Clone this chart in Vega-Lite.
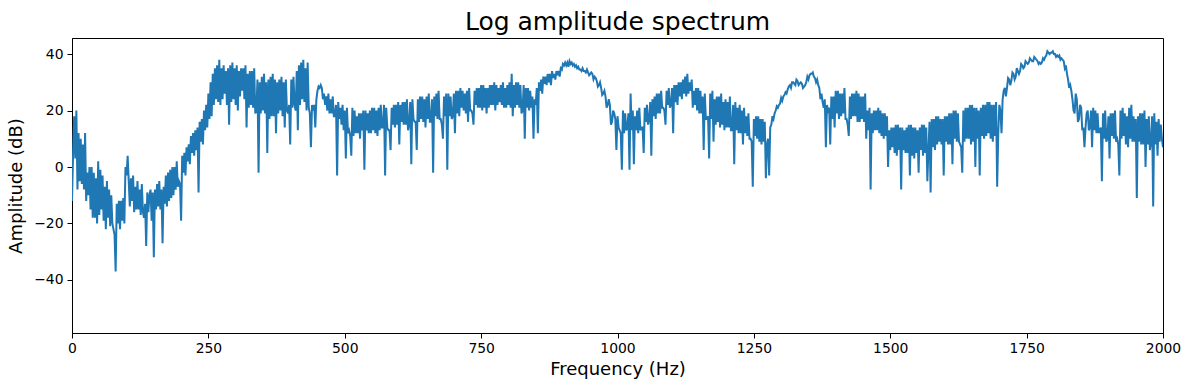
{
"$schema": "https://vega.github.io/schema/vega-lite/v6.json",
"width": 1091, "height": 295,
"autosize": {"type": "none"},
"padding": {"left": 72, "top": 38, "right": 26, "bottom": 57},
"background": "white",
"title": {"text": "Log amplitude spectrum", "fontSize": 25, "font": "DejaVu Sans", "fontWeight": "normal", "color": "black", "offset": 3, "anchor": "middle"},
"config": {
 "view": {"stroke": "black", "strokeWidth": 1},
 "axis": {"grid": false, "domainColor": "black", "domainWidth": 1, "tickColor": "black", "tickSize": 5, "tickWidth": 1, "labelFlush": false,
  "labelFont": "DejaVu Sans", "labelFontSize": 13.9, "labelColor": "black", "labelPadding": 3,
  "titleFont": "DejaVu Sans", "titleFontSize": 18, "titleFontWeight": "normal", "titleColor": "black"}
},
"data": {"values": [
{"f":0,"a":-12},{"f":2,"a":5},{"f":4,"a":18},{"f":6,"a":3},{"f":8,"a":20},{"f":10,"a":-8},{"f":12,"a":12},{"f":14,"a":-5},{"f":16,"a":10},{"f":18,"a":-6},{"f":20,"a":8},{"f":22,"a":-8},{"f":24,"a":12},{"f":26,"a":-12},{"f":28,"a":-2},{"f":30,"a":-10},{"f":32,"a":0},{"f":34,"a":-15},{"f":36,"a":0},{"f":38,"a":-18},{"f":40,"a":-2},{"f":42,"a":-18},{"f":44,"a":-4},{"f":46,"a":-20},{"f":48,"a":2},{"f":50,"a":-17},{"f":52,"a":-1},{"f":54,"a":-15},{"f":56,"a":-3},{"f":58,"a":-19},{"f":60,"a":-7},{"f":62,"a":-22},{"f":64,"a":-5},{"f":66,"a":-18},{"f":68,"a":-8},{"f":70,"a":-21},{"f":72,"a":-10},{"f":74,"a":-20},{"f":76,"a":-22},{"f":78,"a":-24},{"f":80,"a":-37},{"f":82,"a":-13},{"f":84,"a":-20},{"f":86,"a":-12},{"f":88,"a":-22},{"f":90,"a":-12},{"f":92,"a":-19},{"f":94,"a":-11},
{"f":96,"a":-20},{"f":98,"a":0},{"f":100,"a":-3},{"f":102,"a":4},{"f":104,"a":-5},{"f":106,"a":-14},{"f":108,"a":-4},{"f":110,"a":-12},{"f":112,"a":-3},{"f":114,"a":-16},{"f":116,"a":-7},{"f":118,"a":-15},{"f":120,"a":-5},{"f":122,"a":-15},{"f":124,"a":-8},{"f":126,"a":-17},{"f":128,"a":-6},{"f":130,"a":-16},{"f":132,"a":-18},{"f":134,"a":-13},{"f":136,"a":-28},{"f":138,"a":-9},{"f":140,"a":-16},{"f":142,"a":-10},{"f":144,"a":-8},{"f":146,"a":-19},{"f":148,"a":-9},{"f":150,"a":-32},{"f":152,"a":-8},{"f":154,"a":-15},{"f":156,"a":-6},{"f":158,"a":-14},{"f":160,"a":-5},{"f":162,"a":-15},{"f":164,"a":-8},{"f":166,"a":-27},{"f":168,"a":-7},{"f":170,"a":-13},{"f":172,"a":-3},{"f":174,"a":-14},{"f":176,"a":-2},{"f":178,"a":-12},{"f":180,"a":-1},{"f":182,"a":-11},{"f":184,"a":0},{"f":186,"a":-10},{"f":188,"a":0},{"f":190,"a":-8},{"f":192,"a":2},{"f":194,"a":-7},{"f":196,"a":-5},{"f":198,"a":-6},
{"f":200,"a":-19},{"f":202,"a":4},{"f":204,"a":-2},{"f":206,"a":5},{"f":208,"a":-3},{"f":210,"a":7},{"f":212,"a":2},{"f":214,"a":8},{"f":216,"a":1},{"f":218,"a":11},{"f":220,"a":5},{"f":222,"a":12},{"f":224,"a":4},{"f":226,"a":13},{"f":228,"a":6},{"f":230,"a":14},{"f":232,"a":-9},{"f":234,"a":16},{"f":236,"a":9},{"f":238,"a":17},{"f":240,"a":8},{"f":242,"a":20},{"f":244,"a":13},{"f":246,"a":22},{"f":248,"a":14},{"f":250,"a":26},{"f":252,"a":17},{"f":254,"a":30},{"f":256,"a":18},{"f":258,"a":33},{"f":260,"a":22},{"f":262,"a":35},{"f":264,"a":24},{"f":266,"a":36},{"f":268,"a":23},{"f":270,"a":38},{"f":272,"a":22},{"f":274,"a":35},{"f":276,"a":24},{"f":278,"a":36},{"f":280,"a":26},{"f":282,"a":34},{"f":284,"a":22},{"f":286,"a":35},{"f":288,"a":15},{"f":290,"a":36},{"f":292,"a":23},{"f":294,"a":37},
{"f":296,"a":24},{"f":298,"a":35},{"f":300,"a":22},{"f":302,"a":36},{"f":304,"a":20},{"f":306,"a":34},{"f":308,"a":25},{"f":310,"a":35},{"f":312,"a":27},{"f":314,"a":35},{"f":316,"a":24},{"f":318,"a":36},{"f":320,"a":14},{"f":322,"a":33},{"f":324,"a":21},{"f":326,"a":34},{"f":328,"a":22},{"f":330,"a":34},{"f":332,"a":21},{"f":334,"a":35},{"f":336,"a":19},{"f":338,"a":20},{"f":340,"a":31},{"f":342,"a":-2},{"f":344,"a":30},{"f":346,"a":19},{"f":348,"a":32},{"f":350,"a":20},{"f":352,"a":33},{"f":354,"a":19},{"f":356,"a":30},{"f":358,"a":5},{"f":360,"a":31},{"f":362,"a":17},{"f":364,"a":32},{"f":366,"a":18},{"f":368,"a":33},{"f":370,"a":18},{"f":372,"a":31},{"f":374,"a":12},{"f":376,"a":30},{"f":378,"a":19},{"f":380,"a":31},{"f":382,"a":20},{"f":384,"a":32},{"f":386,"a":18},{"f":388,"a":30},{"f":390,"a":14},{"f":392,"a":31},{"f":394,"a":20},{"f":396,"a":19},{"f":398,"a":22},
{"f":400,"a":8},{"f":402,"a":31},{"f":404,"a":21},{"f":406,"a":32},{"f":408,"a":22},{"f":410,"a":20},{"f":412,"a":34},{"f":414,"a":13},{"f":416,"a":36},{"f":418,"a":22},{"f":420,"a":37},{"f":422,"a":24},{"f":424,"a":38},{"f":426,"a":23},{"f":428,"a":35},{"f":430,"a":20},{"f":432,"a":37},{"f":434,"a":21},{"f":436,"a":19},{"f":438,"a":7},{"f":440,"a":22},{"f":442,"a":20},{"f":444,"a":22},{"f":446,"a":14},{"f":448,"a":24},{"f":450,"a":27},{"f":452,"a":28.5},{"f":454,"a":28},{"f":456,"a":29},{"f":458,"a":28},{"f":460,"a":24},{"f":462,"a":26},{"f":464,"a":22},{"f":466,"a":25},{"f":468,"a":20},{"f":470,"a":26},{"f":472,"a":19},{"f":474,"a":24},{"f":476,"a":19},{"f":478,"a":25},{"f":480,"a":18},{"f":482,"a":18},{"f":484,"a":22},{"f":486,"a":-3},{"f":488,"a":23},{"f":490,"a":17},{"f":492,"a":21},{"f":494,"a":15},
{"f":496,"a":22},{"f":498,"a":13},{"f":500,"a":20},{"f":502,"a":3},{"f":504,"a":21},{"f":506,"a":12},{"f":508,"a":13},{"f":510,"a":11},{"f":512,"a":4},{"f":514,"a":21},{"f":516,"a":11},{"f":518,"a":20},{"f":520,"a":12},{"f":522,"a":18},{"f":524,"a":12},{"f":526,"a":19},{"f":528,"a":10},{"f":530,"a":19},{"f":532,"a":13},{"f":534,"a":20},{"f":536,"a":-1},{"f":538,"a":20},{"f":540,"a":13},{"f":542,"a":19},{"f":544,"a":12},{"f":546,"a":20},{"f":548,"a":12},{"f":550,"a":21},{"f":552,"a":13},{"f":554,"a":21},{"f":556,"a":12},{"f":558,"a":20},{"f":560,"a":11},{"f":562,"a":21},{"f":564,"a":13},{"f":566,"a":22},{"f":568,"a":14},{"f":570,"a":14},{"f":572,"a":22},{"f":574,"a":-3},{"f":576,"a":21},{"f":578,"a":14},{"f":580,"a":13},{"f":582,"a":13},{"f":584,"a":6},{"f":586,"a":21},{"f":588,"a":15},{"f":590,"a":22},{"f":592,"a":14},{"f":594,"a":22},{"f":596,"a":15},{"f":598,"a":23},
{"f":600,"a":8},{"f":602,"a":22},{"f":604,"a":16},{"f":606,"a":23},{"f":608,"a":15},{"f":610,"a":23},{"f":612,"a":15},{"f":614,"a":24},{"f":616,"a":13},{"f":618,"a":15},{"f":620,"a":23},{"f":622,"a":1},{"f":624,"a":24},{"f":626,"a":17},{"f":628,"a":16},{"f":630,"a":16},{"f":632,"a":6},{"f":634,"a":24},{"f":636,"a":16},{"f":638,"a":25},{"f":640,"a":17},{"f":642,"a":25},{"f":644,"a":16},{"f":646,"a":24},{"f":648,"a":14},{"f":650,"a":25},{"f":652,"a":17},{"f":654,"a":26},{"f":656,"a":16},{"f":658,"a":16},{"f":660,"a":24},{"f":662,"a":-2},{"f":664,"a":25},{"f":666,"a":18},{"f":668,"a":26},{"f":670,"a":17},{"f":672,"a":27},{"f":674,"a":17},{"f":676,"a":17},{"f":678,"a":15},{"f":680,"a":10},{"f":682,"a":25},{"f":684,"a":18},{"f":686,"a":26},{"f":688,"a":-1},{"f":690,"a":26},{"f":692,"a":18},{"f":694,"a":25},
{"f":696,"a":17},{"f":698,"a":18},{"f":700,"a":26},{"f":702,"a":12},{"f":704,"a":27},{"f":706,"a":19},{"f":708,"a":27},{"f":710,"a":18},{"f":712,"a":28},{"f":714,"a":21},{"f":716,"a":27},{"f":718,"a":20},{"f":720,"a":26},{"f":722,"a":19},{"f":724,"a":27},{"f":726,"a":16},{"f":728,"a":28},{"f":730,"a":20},{"f":732,"a":20},{"f":734,"a":19},{"f":736,"a":15},{"f":738,"a":27},{"f":740,"a":22},{"f":742,"a":28},{"f":744,"a":21},{"f":746,"a":28},{"f":748,"a":21},{"f":750,"a":29},{"f":752,"a":20},{"f":754,"a":29},{"f":756,"a":21},{"f":758,"a":28},{"f":760,"a":19},{"f":762,"a":28},{"f":764,"a":21},{"f":766,"a":29},{"f":768,"a":22},{"f":770,"a":29},{"f":772,"a":22},{"f":774,"a":30},{"f":776,"a":20},{"f":778,"a":29},{"f":780,"a":22},{"f":782,"a":28},{"f":784,"a":23},{"f":786,"a":29},{"f":788,"a":22},{"f":790,"a":30},{"f":792,"a":21},{"f":794,"a":28},{"f":796,"a":21},{"f":798,"a":29},
{"f":800,"a":22},{"f":802,"a":30},{"f":804,"a":21},{"f":806,"a":33},{"f":808,"a":18},{"f":810,"a":29},{"f":812,"a":21},{"f":814,"a":30},{"f":816,"a":22},{"f":818,"a":30},{"f":820,"a":21},{"f":822,"a":29},{"f":824,"a":19},{"f":826,"a":20},{"f":828,"a":29},{"f":830,"a":10},{"f":832,"a":28},{"f":834,"a":21},{"f":836,"a":28},{"f":838,"a":20},{"f":840,"a":27},{"f":842,"a":21},{"f":844,"a":25},{"f":846,"a":10},{"f":848,"a":24},{"f":850,"a":22},{"f":852,"a":28},{"f":854,"a":12},{"f":856,"a":30},{"f":858,"a":27},{"f":860,"a":31},{"f":862,"a":26},{"f":864,"a":32},{"f":866,"a":29.5},{"f":868,"a":32},{"f":870,"a":29},{"f":872,"a":33},{"f":874,"a":30},{"f":876,"a":33},{"f":878,"a":29},{"f":880,"a":34},{"f":882,"a":31.5},{"f":884,"a":33},{"f":886,"a":31},{"f":888,"a":34},{"f":890,"a":32.5},{"f":892,"a":34},{"f":894,"a":32},
{"f":896,"a":35},{"f":898,"a":34.5},{"f":900,"a":36.5},{"f":902,"a":36},{"f":904,"a":37},{"f":906,"a":36},{"f":908,"a":37},{"f":910,"a":35.5},{"f":912,"a":37.5},{"f":914,"a":36.5},{"f":916,"a":37},{"f":918,"a":36},{"f":920,"a":36.5},{"f":922,"a":35.5},{"f":924,"a":36},{"f":926,"a":35},{"f":928,"a":35.5},{"f":930,"a":34.5},{"f":932,"a":34.5},{"f":934,"a":34},{"f":936,"a":35},{"f":938,"a":34},{"f":940,"a":34},{"f":942,"a":33.5},{"f":944,"a":34.5},{"f":946,"a":33.5},{"f":948,"a":32.5},{"f":950,"a":33},{"f":952,"a":33.5},{"f":954,"a":33},{"f":956,"a":31},{"f":958,"a":32},{"f":960,"a":31.5},{"f":962,"a":30.5},{"f":964,"a":28.5},{"f":966,"a":29},{"f":968,"a":30},{"f":970,"a":28},{"f":972,"a":25.5},{"f":974,"a":26},{"f":976,"a":27},{"f":978,"a":25},{"f":980,"a":21},{"f":982,"a":22},{"f":984,"a":24},{"f":986,"a":22},{"f":988,"a":15},{"f":990,"a":16},{"f":992,"a":20},{"f":994,"a":19},{"f":996,"a":17},{"f":998,"a":6},
{"f":1000,"a":18},{"f":1002,"a":14},{"f":1004,"a":13},{"f":1006,"a":12},{"f":1008,"a":-1},{"f":1010,"a":20},{"f":1012,"a":12},{"f":1014,"a":19},{"f":1016,"a":13},{"f":1018,"a":14},{"f":1020,"a":19},{"f":1022,"a":-1},{"f":1024,"a":26},{"f":1026,"a":13},{"f":1028,"a":20},{"f":1030,"a":1},{"f":1032,"a":18},{"f":1034,"a":13},{"f":1036,"a":20},{"f":1038,"a":12},{"f":1040,"a":21},{"f":1042,"a":13},{"f":1044,"a":14},{"f":1046,"a":14},{"f":1048,"a":5},{"f":1050,"a":21},{"f":1052,"a":16},{"f":1054,"a":22},{"f":1056,"a":15},{"f":1058,"a":17},{"f":1060,"a":23},{"f":1062,"a":4},{"f":1064,"a":24},{"f":1066,"a":18},{"f":1068,"a":25},{"f":1070,"a":17},{"f":1072,"a":26},{"f":1074,"a":19},{"f":1076,"a":26},{"f":1078,"a":19},{"f":1080,"a":27},{"f":1082,"a":21},{"f":1084,"a":21},{"f":1086,"a":20},{"f":1088,"a":15},{"f":1090,"a":27},{"f":1092,"a":22},{"f":1094,"a":28},
{"f":1096,"a":21},{"f":1098,"a":22},{"f":1100,"a":28},{"f":1102,"a":12},{"f":1104,"a":29},{"f":1106,"a":23},{"f":1108,"a":29},{"f":1110,"a":22},{"f":1112,"a":30},{"f":1114,"a":25},{"f":1116,"a":30},{"f":1118,"a":24},{"f":1120,"a":31},{"f":1122,"a":26},{"f":1124,"a":32},{"f":1126,"a":25},{"f":1128,"a":33},{"f":1130,"a":26},{"f":1132,"a":30},{"f":1134,"a":27},{"f":1136,"a":31},{"f":1138,"a":21},{"f":1140,"a":27},{"f":1142,"a":22},{"f":1144,"a":28},{"f":1146,"a":20},{"f":1148,"a":28},{"f":1150,"a":19},{"f":1152,"a":27},{"f":1154,"a":19},{"f":1156,"a":25},{"f":1158,"a":6},{"f":1160,"a":26},{"f":1162,"a":17},{"f":1164,"a":17},{"f":1166,"a":18},{"f":1168,"a":3},{"f":1170,"a":26},{"f":1172,"a":17},{"f":1174,"a":27},{"f":1176,"a":9},{"f":1178,"a":24},{"f":1180,"a":15},{"f":1182,"a":25},{"f":1184,"a":16},{"f":1186,"a":25},{"f":1188,"a":14},{"f":1190,"a":26},{"f":1192,"a":15},{"f":1194,"a":23},{"f":1196,"a":13},{"f":1198,"a":24},
{"f":1200,"a":14},{"f":1202,"a":23},{"f":1204,"a":14},{"f":1206,"a":25},{"f":1208,"a":13},{"f":1210,"a":13},{"f":1212,"a":22},{"f":1214,"a":1},{"f":1216,"a":23},{"f":1218,"a":13},{"f":1220,"a":21},{"f":1222,"a":12},{"f":1224,"a":22},{"f":1226,"a":12},{"f":1228,"a":20},{"f":1230,"a":8},{"f":1232,"a":21},{"f":1234,"a":12},{"f":1236,"a":18},{"f":1238,"a":11},{"f":1240,"a":19},{"f":1242,"a":10},{"f":1244,"a":10},{"f":1246,"a":9},{"f":1248,"a":-7},{"f":1250,"a":17},{"f":1252,"a":11},{"f":1254,"a":18},{"f":1256,"a":10},{"f":1258,"a":18},{"f":1260,"a":9},{"f":1262,"a":17},{"f":1264,"a":8},{"f":1266,"a":17},{"f":1268,"a":9},{"f":1270,"a":16},{"f":1272,"a":-4},{"f":1274,"a":8},{"f":1276,"a":10},{"f":1278,"a":-3},{"f":1280,"a":14},{"f":1282,"a":15},{"f":1284,"a":18},{"f":1286,"a":17},{"f":1288,"a":19},{"f":1290,"a":20},{"f":1292,"a":21.5},{"f":1294,"a":21},
{"f":1296,"a":22},{"f":1298,"a":22.5},{"f":1300,"a":24.5},{"f":1302,"a":23.5},{"f":1304,"a":25},{"f":1306,"a":25.5},{"f":1308,"a":26.5},{"f":1310,"a":26},{"f":1312,"a":27.5},{"f":1314,"a":28.5},{"f":1316,"a":29},{"f":1318,"a":28},{"f":1320,"a":30},{"f":1322,"a":30},{"f":1324,"a":29.5},{"f":1326,"a":29},{"f":1328,"a":31},{"f":1330,"a":30.5},{"f":1332,"a":29},{"f":1334,"a":29.5},{"f":1336,"a":30},{"f":1338,"a":29.5},{"f":1340,"a":28},{"f":1342,"a":28.5},{"f":1344,"a":29},{"f":1346,"a":30},{"f":1348,"a":32},{"f":1350,"a":31},{"f":1352,"a":32.5},{"f":1354,"a":33},{"f":1356,"a":33},{"f":1358,"a":33.5},{"f":1360,"a":32},{"f":1362,"a":31.5},{"f":1364,"a":30},{"f":1366,"a":31},{"f":1368,"a":29},{"f":1370,"a":28},{"f":1372,"a":24},{"f":1374,"a":26},{"f":1376,"a":23},{"f":1378,"a":21},{"f":1380,"a":24},{"f":1382,"a":7},{"f":1384,"a":22},{"f":1386,"a":20},{"f":1388,"a":21},{"f":1390,"a":8},{"f":1392,"a":25},{"f":1394,"a":17},{"f":1396,"a":25},{"f":1398,"a":14},
{"f":1400,"a":27},{"f":1402,"a":19},{"f":1404,"a":27},{"f":1406,"a":17},{"f":1408,"a":26},{"f":1410,"a":18},{"f":1412,"a":26},{"f":1414,"a":19},{"f":1416,"a":28},{"f":1418,"a":17},{"f":1420,"a":17},{"f":1422,"a":15},{"f":1424,"a":11},{"f":1426,"a":25},{"f":1428,"a":17},{"f":1430,"a":26},{"f":1432,"a":18},{"f":1434,"a":26},{"f":1436,"a":18},{"f":1438,"a":27},{"f":1440,"a":16},{"f":1442,"a":26},{"f":1444,"a":16},{"f":1446,"a":25},{"f":1448,"a":17},{"f":1450,"a":25},{"f":1452,"a":16},{"f":1454,"a":26},{"f":1456,"a":10},{"f":1458,"a":20},{"f":1460,"a":13},{"f":1462,"a":21},{"f":1464,"a":-8},{"f":1466,"a":19},{"f":1468,"a":12},{"f":1470,"a":20},{"f":1472,"a":13},{"f":1474,"a":20},{"f":1476,"a":13},{"f":1478,"a":21},{"f":1480,"a":12},{"f":1482,"a":20},{"f":1484,"a":11},{"f":1486,"a":19},{"f":1488,"a":10},{"f":1490,"a":19},{"f":1492,"a":11},{"f":1494,"a":18},
{"f":1496,"a":0},{"f":1498,"a":13},{"f":1500,"a":6},{"f":1502,"a":14},{"f":1504,"a":7},{"f":1506,"a":14},{"f":1508,"a":5},{"f":1510,"a":15},{"f":1512,"a":4},{"f":1514,"a":15},{"f":1516,"a":6},{"f":1518,"a":14},{"f":1520,"a":-8},{"f":1522,"a":14},{"f":1524,"a":6},{"f":1526,"a":13},{"f":1528,"a":5},{"f":1530,"a":14},{"f":1532,"a":5},{"f":1534,"a":15},{"f":1536,"a":-3},{"f":1538,"a":15},{"f":1540,"a":4},{"f":1542,"a":14},{"f":1544,"a":3},{"f":1546,"a":14},{"f":1548,"a":5},{"f":1550,"a":13},{"f":1552,"a":-2},{"f":1554,"a":14},{"f":1556,"a":6},{"f":1558,"a":15},{"f":1560,"a":4},{"f":1562,"a":15},{"f":1564,"a":5},{"f":1566,"a":14},{"f":1568,"a":-5},{"f":1570,"a":6},{"f":1572,"a":16},{"f":1574,"a":-9},{"f":1576,"a":17},{"f":1578,"a":7},{"f":1580,"a":17},{"f":1582,"a":6},{"f":1584,"a":18},{"f":1586,"a":8},{"f":1588,"a":18},{"f":1590,"a":9},{"f":1592,"a":17},{"f":1594,"a":8},{"f":1596,"a":17},{"f":1598,"a":-3},
{"f":1600,"a":18},{"f":1602,"a":9},{"f":1604,"a":18},{"f":1606,"a":8},{"f":1608,"a":19},{"f":1610,"a":8},{"f":1612,"a":19},{"f":1614,"a":1},{"f":1616,"a":20},{"f":1618,"a":10},{"f":1620,"a":20},{"f":1622,"a":9},{"f":1624,"a":19},{"f":1626,"a":9},{"f":1628,"a":8},{"f":1630,"a":7},{"f":1632,"a":-2},{"f":1634,"a":20},{"f":1636,"a":9},{"f":1638,"a":21},{"f":1640,"a":10},{"f":1642,"a":21},{"f":1644,"a":10},{"f":1646,"a":22},{"f":1648,"a":8},{"f":1650,"a":22},{"f":1652,"a":9},{"f":1654,"a":21},{"f":1656,"a":0},{"f":1658,"a":21},{"f":1660,"a":10},{"f":1662,"a":20},{"f":1664,"a":-3},{"f":1666,"a":21},{"f":1668,"a":11},{"f":1670,"a":22},{"f":1672,"a":10},{"f":1674,"a":22},{"f":1676,"a":11},{"f":1678,"a":23},{"f":1680,"a":12},{"f":1682,"a":23},{"f":1684,"a":10},{"f":1686,"a":22},{"f":1688,"a":9},{"f":1690,"a":22},{"f":1692,"a":11},{"f":1694,"a":23},
{"f":1696,"a":-7},{"f":1698,"a":12},{"f":1700,"a":22},{"f":1702,"a":20},{"f":1704,"a":12},{"f":1706,"a":24},{"f":1708,"a":27},{"f":1710,"a":28},{"f":1712,"a":25},{"f":1714,"a":28},{"f":1716,"a":31.5},{"f":1718,"a":31},{"f":1720,"a":29},{"f":1722,"a":30.5},{"f":1724,"a":33.5},{"f":1726,"a":33},{"f":1728,"a":31},{"f":1730,"a":32},{"f":1732,"a":35},{"f":1734,"a":34},{"f":1736,"a":33},{"f":1738,"a":34},{"f":1740,"a":36.5},{"f":1742,"a":36},{"f":1744,"a":35},{"f":1746,"a":35.5},{"f":1748,"a":37.5},{"f":1750,"a":37},{"f":1752,"a":36.5},{"f":1754,"a":37},{"f":1756,"a":38.5},{"f":1758,"a":38},{"f":1760,"a":37.5},{"f":1762,"a":37.5},{"f":1764,"a":39},{"f":1766,"a":38.5},{"f":1768,"a":38},{"f":1770,"a":37.5},{"f":1772,"a":36.5},{"f":1774,"a":37},{"f":1776,"a":36.5},{"f":1778,"a":37},{"f":1780,"a":38.5},{"f":1782,"a":38},{"f":1784,"a":39},{"f":1786,"a":39.5},{"f":1788,"a":41},{"f":1790,"a":40.5},{"f":1792,"a":40},{"f":1794,"a":40.5},{"f":1796,"a":40.5},{"f":1798,"a":41},
{"f":1800,"a":40},{"f":1802,"a":40},{"f":1804,"a":39},{"f":1806,"a":39.5},{"f":1808,"a":39},{"f":1810,"a":39.5},{"f":1812,"a":38},{"f":1814,"a":38.5},{"f":1816,"a":38},{"f":1818,"a":37.5},{"f":1820,"a":35},{"f":1822,"a":36},{"f":1824,"a":33},{"f":1826,"a":31},{"f":1828,"a":28},{"f":1830,"a":29},{"f":1832,"a":27},{"f":1834,"a":24},{"f":1836,"a":20},{"f":1838,"a":19},{"f":1840,"a":26},{"f":1842,"a":24},{"f":1844,"a":16},{"f":1846,"a":17},{"f":1848,"a":22},{"f":1850,"a":21},{"f":1852,"a":13},{"f":1854,"a":14},{"f":1856,"a":7},{"f":1858,"a":14},{"f":1860,"a":19},{"f":1862,"a":20},{"f":1864,"a":13},{"f":1866,"a":14},{"f":1868,"a":20},{"f":1870,"a":7},{"f":1872,"a":21},{"f":1874,"a":13},{"f":1876,"a":20},{"f":1878,"a":12},{"f":1880,"a":19},{"f":1882,"a":12},{"f":1884,"a":13},{"f":1886,"a":14},{"f":1888,"a":-5},{"f":1890,"a":19},{"f":1892,"a":10},{"f":1894,"a":20},
{"f":1896,"a":9},{"f":1898,"a":10},{"f":1900,"a":18},{"f":1902,"a":3},{"f":1904,"a":19},{"f":1906,"a":11},{"f":1908,"a":19},{"f":1910,"a":10},{"f":1912,"a":20},{"f":1914,"a":9},{"f":1916,"a":10},{"f":1918,"a":8},{"f":1920,"a":-3},{"f":1922,"a":20},{"f":1924,"a":10},{"f":1926,"a":21},{"f":1928,"a":11},{"f":1930,"a":19},{"f":1932,"a":8},{"f":1934,"a":18},{"f":1936,"a":7},{"f":1938,"a":21},{"f":1940,"a":10},{"f":1942,"a":22},{"f":1944,"a":9},{"f":1946,"a":18},{"f":1948,"a":9},{"f":1950,"a":17},{"f":1952,"a":-11},{"f":1954,"a":18},{"f":1956,"a":9},{"f":1958,"a":19},{"f":1960,"a":8},{"f":1962,"a":19},{"f":1964,"a":8},{"f":1966,"a":20},{"f":1968,"a":0},{"f":1970,"a":17},{"f":1972,"a":8},{"f":1974,"a":18},{"f":1976,"a":6},{"f":1978,"a":9},{"f":1980,"a":18},{"f":1982,"a":-14},{"f":1984,"a":19},{"f":1986,"a":8},{"f":1988,"a":16},{"f":1990,"a":4},{"f":1992,"a":17},{"f":1994,"a":9},{"f":1996,"a":15},{"f":1998,"a":10},{"f":2000,"a":7}
]},
"mark": {"type": "line", "color": "#1f77b4", "strokeWidth": 2, "clip": true},
"encoding": {
 "x": {"field": "f", "type": "quantitative", "scale": {"domain": [0, 2000], "nice": false}, "axis": {"values": [0, 250, 500, 750, 1000, 1250, 1500, 1750, 2000], "format": "d", "title": "Frequency (Hz)", "titlePadding": 6}},
 "y": {"field": "a", "type": "quantitative", "scale": {"domain": [-58.8, 45.7], "nice": false, "zero": false}, "axis": {"values": [-40, -20, 0, 20, 40], "format": "d", "title": "Amplitude (dB)", "labelPadding": 4, "titlePadding": 8}}
}
}
